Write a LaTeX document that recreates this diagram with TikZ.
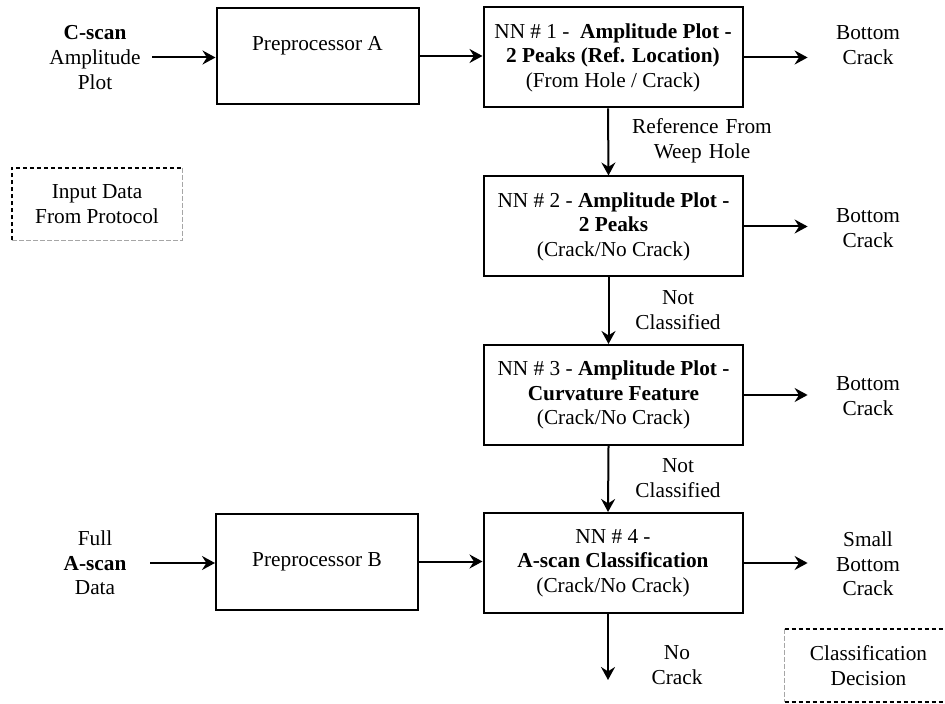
\documentclass[tikz,border=0pt]{standalone}
\usepackage{fontspec}
\setmainfont{Liberation Serif}
\usepackage{tikz}
\usetikzlibrary{arrows.meta,positioning}
\tikzset{every node/.append style={font=\fontsize{10.65}{12.3}\selectfont}}
\tikzset{nnbox/.style={draw,line width=1pt,minimum width=129.5pt,minimum height=50pt,align=center,inner sep=0pt},
         prebox/.style={draw,line width=1pt,minimum width=101pt,minimum height=48pt,align=center,inner sep=0pt},
         sidetext/.style={align=center,inner sep=0pt,text width=60pt},
         flow/.style={line width=1pt,-{Stealth[length=6.5pt,width=7pt,inset=2.2pt]}},
         darkdash/.style={line width=1pt,dash pattern=on 2pt off 1.5pt},
         lightdash/.style={line width=0.4pt,gray!70,dash pattern=on 2.5pt off 1pt}}

\begin{document}
\begin{tikzpicture}[x=0.5pt,y=-0.5pt]
    \useasboundingbox (0,0) rectangle (945,704);

    \node[prebox] (PrepA) at (317.5,56) {Preprocessor A\\ \mbox{}};
    \node[prebox] (PrepB) at (317,561.5) {Preprocessor B};

    \node[nnbox] (NN1) at (613,57.5) {NN \# 1 -~ \textbf{Amplitude Plot -}\\ \textbf{2 Peaks (Ref. Location)}\\ (From Hole / Crack)};
    \node[nnbox] (NN2) at (613.5,226.5) {NN \# 2 - \textbf{Amplitude Plot -}\\ \textbf{2 Peaks}\\ (Crack/No Crack)};
    \node[nnbox] (NN3) at (613.5,395) {NN \# 3 - \textbf{Amplitude Plot -}\\ \textbf{Curvature Feature}\\ (Crack/No Crack)};
    \node[nnbox] (NN4) at (613,563) {NN \# 4 -\\ \textbf{A-scan Classification}\\ (Crack/No Crack)};

    \node[sidetext,text width=57pt] (Cscan) at (95,57.5) {\textbf{C-scan}\\ Amplitude\\ Plot};
    \node[sidetext,text width=55pt] (Ascan) at (95,563) {Full\\ \textbf{A-scan}\\ Data};

    \node[sidetext] (Out1) at (868,45) {Bottom\\ Crack};
    \node[sidetext] (Out2) at (868,228) {Bottom\\ Crack};
    \node[sidetext] (Out3) at (868,396) {Bottom\\ Crack};
    \node[sidetext] (Out4) at (868,564) {Small\\ Bottom\\ Crack};

    \node[sidetext,text width=90pt] (RefHole) at (702,141) {Reference From\\ Weep Hole};
    \node[sidetext] (NotClass1) at (678,310) {Not\\ Classified};
    \node[sidetext] (NotClass2) at (678,478) {Not\\ Classified};
    \node[sidetext] (NoCrack) at (677,665) {No\\ Crack};
    \coordinate (End4) at (608,680);

    \draw[flow] (Cscan.east) -- (PrepA.west |- Cscan.east);
    \draw[flow] (PrepA.east) -- (NN1.west |- PrepA.east);
    \draw[flow] (Ascan.east) -- (PrepB.west |- Ascan.east);
    \draw[flow] (PrepB.east) -- (NN4.west |- PrepB.east);

    \foreach \n in {1,2,3,4} {
        \draw[flow] (NN\n.east) -- (Out\n.west |- NN\n.east);
    }
    \foreach \a/\b in {NN1/NN2,NN2/NN3,NN3/NN4} {
        \draw[flow] ([xshift=-2.5pt]\a.south) -- ([xshift=-2.5pt]\b.north);
    }
    \draw[flow] ([xshift=-2.5pt]NN4.south) -- (End4);

    \node[minimum width=85pt,minimum height=36pt,align=center,inner sep=0pt] (InData) at (97,204) {Input Data\\ From Protocol};
    \draw[darkdash] (InData.south west) -- (InData.north west) -- (InData.north east);
    \draw[lightdash] (InData.north east) -- (InData.south east) -- (InData.south west);

    \node[minimum width=83.5pt,minimum height=36.5pt,align=center,inner sep=0pt] (Decision) at (868.5,665.5) {Classification\\ Decision};
    \draw[darkdash] (Decision.north west) -- (Decision.north east);
    \draw[darkdash] (Decision.south west) -- (Decision.south east);
    \draw[lightdash] (Decision.north west) -- (Decision.south west);
\end{tikzpicture}
\end{document}
